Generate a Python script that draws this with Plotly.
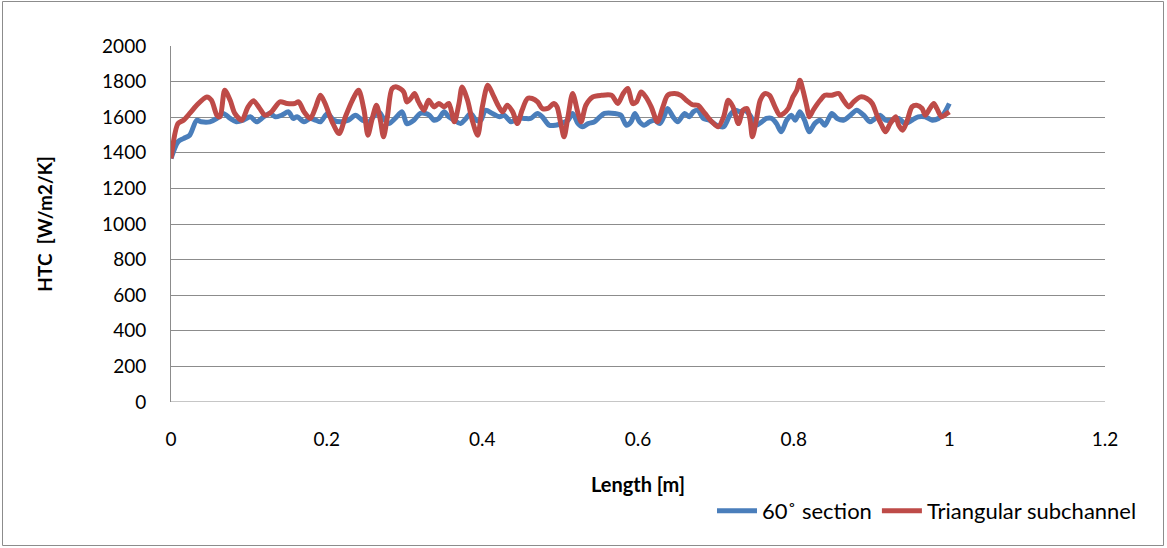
import plotly.graph_objects as go

# 60° section
x_sec = [0, 0.009, 0.016, 0.024, 0.033, 0.039, 0.050, 0.059, 0.067, 0.076, 0.084, 0.093, 0.102, 0.110,
         0.119, 0.127, 0.134, 0.142, 0.151, 0.157, 0.162, 0.171, 0.179, 0.186, 0.192, 0.201, 0.209, 0.218,
         0.228, 0.237, 0.246, 0.254, 0.260, 0.267, 0.273, 0.280, 0.288, 0.297, 0.303, 0.312, 0.320, 0.327,
         0.332, 0.338, 0.344, 0.351, 0.357, 0.364, 0.372, 0.379, 0.385, 0.392, 0.398, 0.404, 0.413, 0.422,
         0.428, 0.437, 0.445, 0.454, 0.462, 0.471, 0.477, 0.486, 0.494, 0.501, 0.510, 0.516, 0.523, 0.529,
         0.536, 0.544, 0.551, 0.557, 0.570, 0.578, 0.585, 0.591, 0.596, 0.602, 0.608, 0.615, 0.621, 0.628,
         0.634, 0.638, 0.645, 0.651, 0.660, 0.666, 0.671, 0.677, 0.684, 0.692, 0.701, 0.710, 0.718, 0.725,
         0.731, 0.737, 0.744, 0.752, 0.759, 0.765, 0.772, 0.778, 0.784, 0.791, 0.797, 0.802, 0.808, 0.814,
         0.820, 0.827, 0.834, 0.840, 0.849, 0.856, 0.864, 0.873, 0.881, 0.890, 0.898, 0.905, 0.911, 0.918,
         0.926, 0.935, 0.943, 0.952, 0.960, 0.969, 0.978, 0.986, 0.993, 1.000]
htc_sec = [1368, 1462, 1480, 1499, 1583, 1574, 1574, 1593, 1621, 1593, 1574, 1583, 1602, 1574,
           1602, 1621, 1602, 1611, 1630, 1593, 1602, 1574, 1593, 1583, 1574, 1621, 1583, 1574,
           1583, 1611, 1583, 1574, 1602, 1630, 1593, 1564, 1593, 1630, 1564, 1583, 1621, 1621,
           1611, 1583, 1593, 1630, 1602, 1583, 1564, 1593, 1621, 1583, 1583, 1639, 1621, 1602,
           1611, 1574, 1593, 1593, 1593, 1621, 1602, 1555, 1555, 1564, 1583, 1621, 1564, 1546,
           1564, 1574, 1602, 1621, 1621, 1611, 1555, 1574, 1621, 1574, 1555, 1574, 1583, 1564,
           1611, 1649, 1602, 1574, 1621, 1602, 1630, 1639, 1593, 1583, 1555, 1546, 1611, 1639,
           1630, 1639, 1611, 1555, 1574, 1593, 1593, 1564, 1518, 1583, 1611, 1583, 1630, 1583,
           1518, 1564, 1583, 1555, 1621, 1593, 1583, 1611, 1639, 1611, 1574, 1593, 1611, 1583,
           1583, 1593, 1564, 1583, 1602, 1602, 1583, 1593, 1621, 1677]

# Triangular subchannel
x_tri = [0, 0.009, 0.016, 0.024, 0.033, 0.046, 0.052, 0.059, 0.063, 0.069, 0.076, 0.082, 0.091, 0.099,
         0.106, 0.114, 0.121, 0.129, 0.140, 0.149, 0.159, 0.164, 0.171, 0.179, 0.186, 0.192, 0.198, 0.207,
         0.216, 0.224, 0.233, 0.241, 0.248, 0.253, 0.258, 0.264, 0.269, 0.273, 0.278, 0.284, 0.290, 0.299,
         0.303, 0.308, 0.313, 0.318, 0.325, 0.331, 0.338, 0.344, 0.351, 0.357, 0.364, 0.370, 0.374, 0.381,
         0.387, 0.394, 0.400, 0.407, 0.413, 0.419, 0.426, 0.432, 0.439, 0.445, 0.451, 0.458, 0.464, 0.471,
         0.477, 0.484, 0.492, 0.496, 0.501, 0.505, 0.510, 0.516, 0.523, 0.527, 0.533, 0.542, 0.553, 0.566,
         0.574, 0.581, 0.587, 0.593, 0.598, 0.604, 0.610, 0.617, 0.625, 0.632, 0.638, 0.647, 0.655, 0.662,
         0.670, 0.677, 0.686, 0.695, 0.703, 0.710, 0.716, 0.722, 0.729, 0.735, 0.740, 0.744, 0.747, 0.752,
         0.757, 0.763, 0.769, 0.776, 0.782, 0.787, 0.793, 0.799, 0.804, 0.808, 0.812, 0.817, 0.820, 0.825,
         0.834, 0.840, 0.849, 0.858, 0.864, 0.871, 0.877, 0.886, 0.894, 0.901, 0.907, 0.913, 0.918, 0.924,
         0.931, 0.935, 0.940, 0.946, 0.952, 0.958, 0.965, 0.969, 0.975, 0.980, 0.984, 0.990, 0.997, 1.000]
htc_tri = [1368, 1565, 1583, 1621, 1667, 1714, 1695, 1611, 1602, 1751, 1695, 1621, 1583, 1658,
           1692, 1649, 1611, 1630, 1686, 1677, 1677, 1686, 1630, 1593, 1658, 1723, 1677, 1574,
           1508, 1602, 1695, 1751, 1639, 1499, 1583, 1667, 1583, 1490, 1602, 1761, 1770, 1742,
           1686, 1705, 1733, 1686, 1639, 1695, 1658, 1677, 1658, 1677, 1574, 1677, 1770, 1695,
           1583, 1499, 1658, 1780, 1733, 1677, 1630, 1667, 1630, 1564, 1639, 1705, 1705, 1686,
           1649, 1649, 1677, 1658, 1560, 1490, 1602, 1733, 1621, 1574, 1667, 1714, 1723, 1723,
           1677, 1733, 1761, 1677, 1686, 1742, 1714, 1658, 1574, 1658, 1723, 1733, 1723, 1695,
           1670, 1667, 1621, 1574, 1546, 1602, 1695, 1658, 1564, 1639, 1649, 1583, 1490, 1583,
           1695, 1733, 1723, 1658, 1611, 1621, 1649, 1714, 1751, 1808, 1751, 1658, 1602, 1639,
           1695, 1723, 1723, 1733, 1695, 1658, 1686, 1714, 1705, 1677, 1611, 1555, 1518, 1564,
           1602, 1555, 1527, 1583, 1658, 1667, 1649, 1611, 1649, 1677, 1649, 1602, 1621, 1630]

y_ticks = [0, 200, 400, 600, 800, 1000, 1200, 1400, 1600, 1800, 2000]
x_ticks = [0, 0.2, 0.4, 0.6, 0.8, 1, 1.2]
x_tick_text = ["0", "0.2", "0.4", "0.6", "0.8", "1", "1.2"]

FONT = "Lato, 'Open Sans', sans-serif"
GRID = "#8c8c8c"

fig = go.Figure()
fig.add_trace(go.Scatter(x=x_sec, y=htc_sec, mode="lines", name="60˚ section",
                         line=dict(color="#4A7EBB", width=5, shape="spline", smoothing=0.8)))
fig.add_trace(go.Scatter(x=x_tri, y=htc_tri, mode="lines", name="Triangular subchannel",
                         line=dict(color="#BE4B48", width=5, shape="spline", smoothing=0.8)))

L, R, T, B = 171, 62, 46, 146
W, H = 1167, 548
pw, ph = W - L - R, H - T - B

fig.update_layout(
    width=W, height=H,
    margin=dict(l=L, r=R, t=T, b=B),
    paper_bgcolor="white", plot_bgcolor="white",
    font=dict(family=FONT, size=19, color="black"),
    showlegend=True,
    legend=dict(orientation="h", x=(1142 - L) / pw, xanchor="right",
                y=(H - B - 511) / ph, yanchor="middle",
                font=dict(family=FONT, size=22), itemwidth=40,
                bgcolor="rgba(0,0,0,0)", traceorder="normal"),
    xaxis=dict(range=[0, 1.2], tickvals=x_ticks, ticktext=x_tick_text,
               showgrid=False, zeroline=False, showline=False, ticks="",
               ticklabelstandoff=24,
               title=dict(text="<b>Length [m]</b>", font=dict(size=20), standoff=28)),
    yaxis=dict(range=[0, 2000], tickvals=y_ticks, showgrid=True, gridcolor=GRID, gridwidth=1,
               zeroline=False, showline=True, linecolor=GRID, linewidth=1, ticks="",
               ticklabelstandoff=20,
               title=dict(text="<b>HTC  [W/m2/K]</b>", font=dict(size=19), standoff=44)),
)

# bottom axis line (0 gridline) and outer chart border
fig.add_shape(type="line", xref="paper", yref="y", x0=0, x1=1, y0=0, y1=0,
              line=dict(color=GRID, width=1), layer="below")
fig.add_shape(type="rect", xref="paper", yref="paper",
              x0=(2.5 - L) / pw, x1=(1163.5 - L) / pw,
              y0=(H - B - 545.5) / ph, y1=(H - B - 1.5) / ph,
              line=dict(color="#8c8c8c", width=1), fillcolor="rgba(0,0,0,0)")

fig.write_html("out.html")
